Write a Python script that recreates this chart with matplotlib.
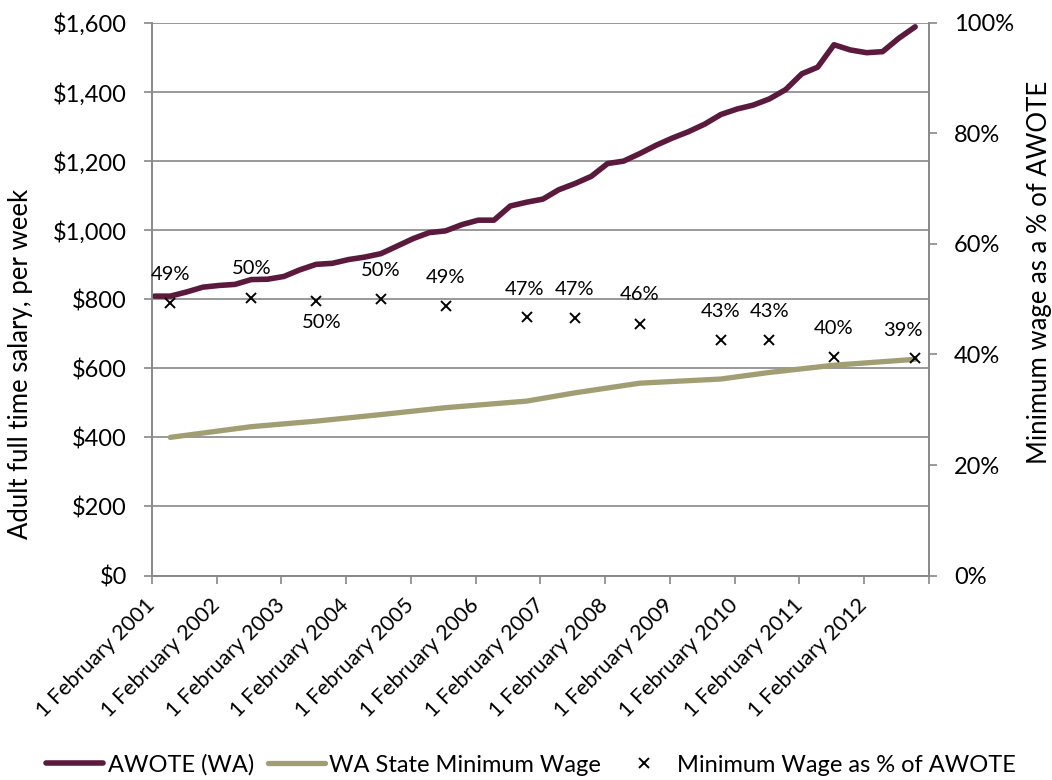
import matplotlib
matplotlib.use("Agg")
import matplotlib.pyplot as plt
import matplotlib.ticker as mticker
import pandas as pd

plt.rcParams['font.family'] = ['Lato', 'DejaVu Sans']

# Quarterly AWOTE for Western Australia (Feb 2001 - Nov 2012), $ per week
awote = [809, 809, 821, 835, 840, 843, 857, 858, 866, 885, 901, 904,
         915, 922, 932, 954, 976, 993, 998, 1016, 1029, 1029, 1070, 1081,
         1090, 1117, 1135, 1156, 1193, 1200, 1222, 1246, 1267, 1285, 1307, 1335,
         1351, 1362, 1380, 1407, 1453, 1472, 1537, 1522, 1514, 1517, 1556, 1589]
awote_dates = pd.date_range('2001-02-01', periods=len(awote), freq='3MS') + pd.Timedelta(days=14)

# WA State Minimum Wage at each annual review, $ per week
mw_dates = pd.to_datetime(['2001-05-15', '2002-08-15', '2003-08-15', '2004-08-15',
                           '2005-08-15', '2006-11-15', '2007-08-15', '2008-08-15',
                           '2009-11-15', '2010-08-15', '2011-08-15', '2012-11-15'])
min_wage = [400, 431, 447, 466, 486, 505, 529, 557, 569, 588, 609, 626]

# Minimum wage as a share of AWOTE at each review
mw_share = [0.493, 0.503, 0.496, 0.500, 0.487, 0.467, 0.466, 0.456, 0.426, 0.426, 0.396, 0.394]

tick_years = list(range(2001, 2014))
tick_labels = [f"1 February {y}" for y in range(2001, 2013)] + [""]

# label placement (pixels) for the share annotations
label_offsets = [(0, 29), (0, 29), (6, -21), (0, 29), (0, 29), (-2, 28),
                 (0, 29), (0, 29), (0, 29), (0, 29), (0, 28), (-12, 27)]

MAROON = '#5B1A3D'
OLIVE = '#A09E72'
GRID = '#888888'
FS = 17
FS_X = 15.5
FS_TITLE = 18.5

fig = plt.figure(figsize=(10.52, 7.8), dpi=100)
ax = fig.add_axes([152 / 1052, 204.5 / 780, 777 / 1052, 552.5 / 780])
ax2 = ax.twinx()

l1, = ax.plot(awote_dates, awote, color=MAROON, lw=4.0, solid_capstyle='round',
              solid_joinstyle='round', label='AWOTE (WA)', zorder=3)
l2, = ax.plot(mw_dates, min_wage, color=OLIVE, lw=3.8, solid_capstyle='round',
              solid_joinstyle='round', label='WA State Minimum Wage', zorder=3)
l3, = ax2.plot(mw_dates, mw_share, ls='none', marker='x', ms=7, mew=1.4,
               color='black', label='Minimum Wage as % of AWOTE', zorder=4)

for d, s, off in zip(mw_dates, mw_share, label_offsets):
    ax2.annotate(f"{s * 100:.0f}%", (d, s), xytext=off, textcoords='offset pixels',
                 ha='center', va='center', fontsize=14.5, color='black')

ax.set_ylim(0, 1600)
ax.yaxis.set_major_locator(mticker.MultipleLocator(200))
ax.yaxis.set_major_formatter(mticker.FuncFormatter(lambda v, p: f"${v:,.0f}"))
ax2.set_ylim(0, 1.0)
ax2.yaxis.set_major_locator(mticker.MultipleLocator(0.2))
ax2.yaxis.set_major_formatter(mticker.FuncFormatter(lambda v, p: f"{v * 100:.0f}%"))

ax.set_xlim(pd.Timestamp('2001-02-01'), pd.Timestamp('2013-02-01'))
ax.set_xticks([pd.Timestamp(f'{y}-02-01') for y in tick_years])
ax.set_xticklabels(tick_labels, rotation=45, ha='right', va='center',
                   rotation_mode='anchor', fontsize=FS_X)

ax.grid(axis='y', color=GRID, lw=1.2)
ax.set_axisbelow(True)
for a in (ax, ax2):
    a.spines['top'].set_visible(False)
    for side in ('left', 'right', 'bottom'):
        a.spines[side].set_color(GRID)
        a.spines[side].set_linewidth(1.2)
ax.tick_params(axis='both', which='major', direction='out', length=6, width=1.2,
               color=GRID)
ax.tick_params(axis='x', pad=13)
ax.tick_params(axis='y', pad=12, labelsize=FS)
ax2.tick_params(axis='y', direction='out', length=6, width=1.2, color=GRID,
                labelsize=FS, pad=12)

ax.set_ylabel('Adult full time salary, per week', fontsize=FS_TITLE)
ax.yaxis.set_label_coords((33 - 152) / 777, (575.5 - 364) / 552.5)
ax2.set_ylabel('Minimum wage as a % of AWOTE', fontsize=FS_TITLE)
ax2.yaxis.set_label_coords((1027 - 152) / 777, (575.5 - 272) / 552.5)

fig.legend(handles=[l1, l2, l3], loc='center', bbox_to_anchor=(531 / 1052, 15 / 780),
           ncol=3, frameon=False, fontsize=FS, handlelength=2.4, handletextpad=0.2,
           columnspacing=0.6)

fig.savefig('out.png', dpi=100)
